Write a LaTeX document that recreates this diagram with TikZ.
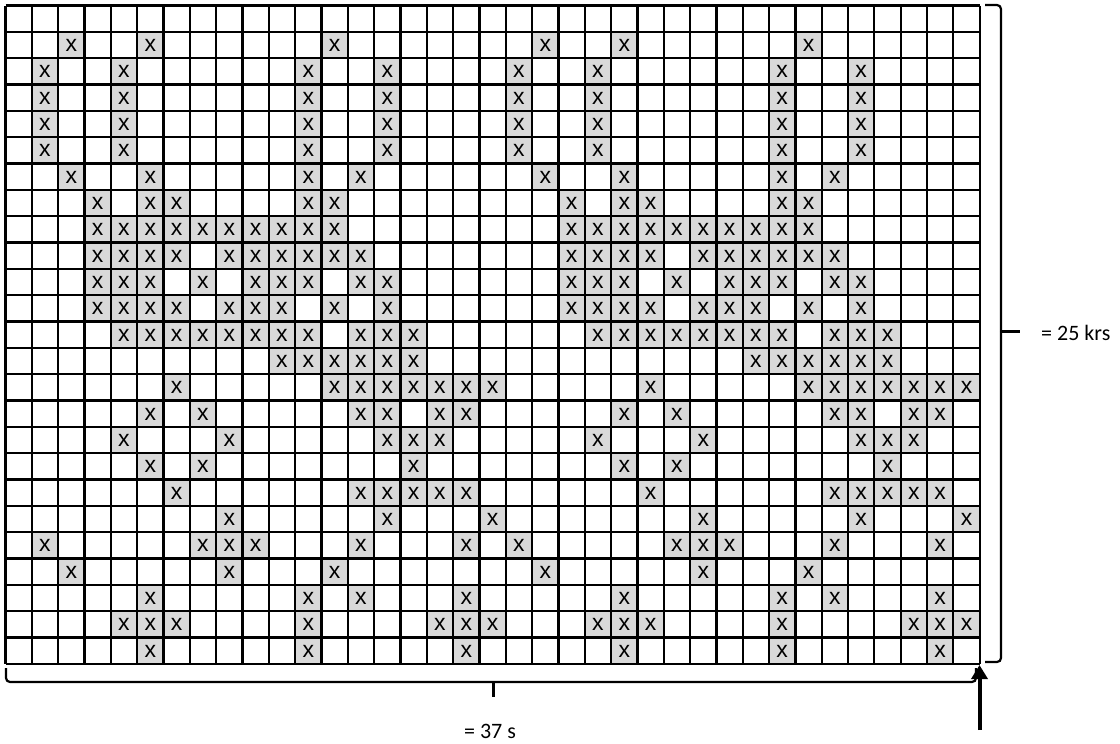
\documentclass[tikz,border=0pt]{standalone}
\usepackage{fontspec}
\setmainfont{Carlito}
\newfontfamily\cellfont{Liberation Sans}
\usetikzlibrary{arrows.meta}
\definecolor{shade}{HTML}{D9D9D9}
\tikzset{
  gridline/.style={line width=2.2pt, black},
  shadedcell/.style={fill=shade, draw=none},
  xmark/.style={font=\cellfont\fontsize{23}{23}\selectfont, inner sep=0pt, anchor=center},
  bracepath/.style={line width=2.2pt, black, rounded corners=4pt},
  dimlabel/.style={font=\fontsize{22}{24}\selectfont, inner sep=0pt},
  pointer/.style={line width=4pt, -{Triangle[length=14pt,width=16pt]}}
}
\begin{document}
\begin{tikzpicture}[x=1pt,y=-1pt]
\useasboundingbox (0,0) rectangle (1120,744);
\def\xo{5.5}\def\yo{5.5}\def\cw{26.33}
% shaded cells with x
\foreach \r/\cols in {
 1/{2,5,12,20,23,30},
 2/{1,4,11,14,19,22,29,32},
 3/{1,4,11,14,19,22,29,32},
 4/{1,4,11,14,19,22,29,32},
 5/{1,4,11,14,19,22,29,32},
 6/{2,5,11,13,20,23,29,31},
 7/{3,5,6,11,12,21,23,24,29,30},
 8/{3,4,5,6,7,8,9,10,11,12,21,22,23,24,25,26,27,28,29,30},
 9/{3,4,5,6,8,9,10,11,12,13,21,22,23,24,26,27,28,29,30,31},
 10/{3,4,5,7,9,10,11,13,14,21,22,23,25,27,28,29,31,32},
 11/{3,4,5,6,8,9,10,12,14,21,22,23,24,26,27,28,30,32},
 12/{4,5,6,7,8,9,10,11,13,14,15,22,23,24,25,26,27,28,29,31,32,33},
 13/{10,11,12,13,14,15,28,29,30,31,32,33},
 14/{6,12,13,14,15,16,17,18,24,30,31,32,33,34,35,36},
 15/{5,7,13,14,16,17,23,25,31,32,34,35},
 16/{4,8,14,15,16,22,26,32,33,34},
 17/{5,7,15,23,25,33},
 18/{6,13,14,15,16,17,24,31,32,33,34,35},
 19/{8,14,18,26,32,36},
 20/{1,7,8,9,13,17,19,25,26,27,31,35},
 21/{2,8,12,20,26,30},
 22/{5,11,13,17,23,29,31,35},
 23/{4,5,6,11,16,17,18,22,23,24,29,34,35,36},
 24/{5,11,17,23,29,35}}{
  \foreach \c in \cols {
    \fill[shadedcell] ({\xo+\c*\cw},{\yo+\r*\cw}) rectangle ({\xo+(\c+1)*\cw},{\yo+(\r+1)*\cw});
    \node[xmark] (x-\r-\c) at ({\xo+(\c+0.5)*\cw},{\yo+(\r+0.5)*\cw+0.5}) {x};
  }
}
% grid lines
\foreach \i in {0,...,37} {
  \draw[gridline] ({\xo+\i*\cw},{\yo}) -- ({\xo+\i*\cw},{\yo+25*\cw});
}
\foreach \j in {0,...,25} {
  \draw[gridline] ({\xo},{\yo+\j*\cw}) -- ({\xo+37*\cw},{\yo+\j*\cw});
}
% right brace
\draw[bracepath] (985,5) -- (1001,5) -- (1001,331);
\draw[bracepath] (1001,331) -- (1001,662) -- (985,662);
\draw[line width=3pt] (1001,331) -- (1020,331);
\node[dimlabel, anchor=west] (rows) at (1041,333) {= 25 krs};
% bottom brace
\draw[bracepath] (6,668) -- (6,682) -- (976,682) -- (976,668);
\draw[line width=3pt] (493,682) -- (493,697);
\node[dimlabel] (cols) at (490,731) {= 37 s};
% arrow to corner
\coordinate (corner) at (979.5,665);
\coordinate (tail) at (979.5,730);
\draw[pointer] (tail) -- (corner);
\end{tikzpicture}
\end{document}
